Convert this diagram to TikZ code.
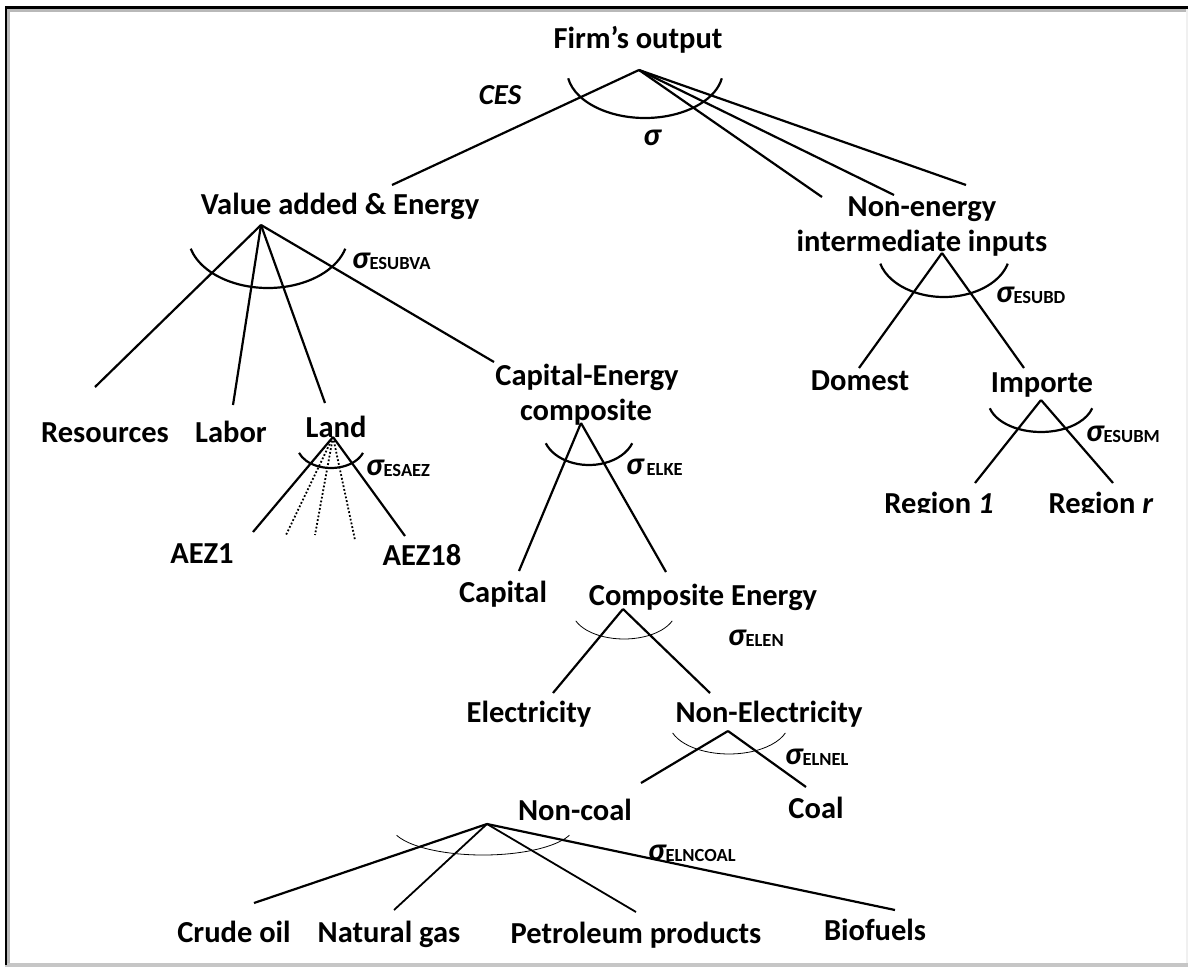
\documentclass[tikz,border=0pt]{standalone}
\usepackage{fontspec}
\setmainfont{Carlito}
\begin{document}
\begin{tikzpicture}[x=1pt,y=-1pt,
  lbl/.style={font=\bfseries\fontsize{30.5}{34}\selectfont, inner sep=0pt, anchor=base},
  sig/.style={font=\bfseries\fontsize{30.5}{34}\selectfont, inner sep=0pt, anchor=base west},
  br/.style={line width=2.2pt},
  midbr/.style={line width=1.8pt},
  bigarc/.style={line width=2.2pt},
  smallarc/.style={line width=0.8pt},
  dotbr/.style={line width=1.8pt, dotted}]
\useasboundingbox (0,0) rectangle (1188,968);
% frame
\fill[white] (0,0) rectangle (1188,968);
\fill[gray!55] (4.5,6) rectangle (1188,12);
\fill[gray!55] (4.5,6) rectangle (10,967);
\fill[gray!45] (4.5,963) rectangle (1188,967);
\fill[gray!12] (1186,8) rectangle (1188,963);
\fill[black] (4.5,6) rectangle (1188,8.6);
\fill[black] (4.5,6) rectangle (7,965);

\newcommand{\sg}[1]{{\itshape\fontsize{32}{34}\selectfont σ}{\fontsize{18.5}{20}\selectfont\raisebox{-1pt}{#1}}}

% labels
\node[lbl] (firm) at (638,49) {Firm’s output};
\node[lbl, font=\bfseries\itshape\fontsize{29}{34}\selectfont] (ces) at (500,105) {CES};
\node[lbl, font=\bfseries\itshape\fontsize{32}{34}\selectfont] (sigma) at (652,146) {σ};
\node[lbl] (va) at (340,215) {Value added \& Energy};
\node[lbl] (ne1) at (922,217) {Non-energy};
\node[lbl] (ne2) at (922,252) {intermediate inputs};
\node[lbl] (res) at (105,442) {Resources};
\node[lbl] (lab) at (231,442) {Labor};
\node[lbl] (land) at (336,437) {Land};
\node[lbl] (ce1) at (587,385) {Capital-Energy};
\node[lbl] (ce2) at (586,420) {composite};
\node[lbl] (aez1) at (202,563) {AEZ1};
\node[lbl] (aez18) at (422,565) {AEZ18};
\node[lbl] (cap) at (503,602) {Capital};
\node[lbl] (cen) at (703,605) {Composite Energy};
\node[lbl] (elec) at (529,722) {Electricity};
\node[lbl] (nel) at (769,722) {Non-Electricity};
\node[lbl] (ncoal) at (575,820) {Non-coal};
\node[lbl] (coal) at (816,818) {Coal};
\node[lbl] (crude) at (234,942) {Crude oil};
\node[lbl] (ngas) at (389,942) {Natural gas};
\node[lbl] (petro) at (636,943) {Petroleum products};
\node[lbl] (bio) at (875,940) {Biofuels};
\node[lbl] (dom) at (860,390) {Domest};
\node[lbl] (imp) at (1042,392) {Importe};
\begin{scope}
\clip (850,470) rectangle (1188,512);
\node[lbl] (r1) at (939,513.5) {Region \textit{1}};
\node[lbl] (rr) at (1101,513.5) {Region \textit{r}};
\end{scope}

% sigma labels
\node[sig] (s1) at (352,269) {\sg{ESUBVA}};
\node[sig] (s2) at (366,475) {\sg{ESAEZ}};
\node[sig] (s3) at (626,474) {\sg{\,ELKE}};
\node[sig] (s4) at (728,645) {\sg{ELEN}};
\node[sig] (s5) at (785,764) {\sg{ELNEL}};
\node[sig] (s6) at (648,860) {\sg{ELNCOAL}};
\node[sig] (s7) at (996,302) {\sg{ESUBD}};
\node[sig] (s8) at (1086,441) {\sg{ESUBM}};

% apex coordinates
\coordinate (aF) at (639,70);
\coordinate (aVA) at (261,225);
\coordinate (aL) at (333,437);
\coordinate (aCE) at (581,423);
\coordinate (aCN) at (623,609);
\coordinate (aNL) at (728,731);
\coordinate (aNC) at (487,824);
\coordinate (aNE) at (942,253);
\coordinate (aIM) at (1041,400);

% free ends
\coordinate (eF1) at (392,185);
\coordinate (eF2) at (822,197);
\coordinate (eF3) at (894,195);
\coordinate (eF4) at (966,185);
\coordinate (eV1) at (95,387);
\coordinate (eV2) at (233,405);
\coordinate (eV3) at (325,403);
\coordinate (eV4) at (494,362);
\coordinate (eL1) at (253,532);
\coordinate (eL2) at (286,535);
\coordinate (eL3) at (315,535);
\coordinate (eL4) at (355,540);
\coordinate (eL5) at (405,536);
\coordinate (eC1) at (519,571);
\coordinate (eC2) at (666,572);
\coordinate (eN1) at (553,693);
\coordinate (eN2) at (710,693);
\coordinate (eE1) at (641,783);
\coordinate (eE2) at (806,787);
\coordinate (eO1) at (254,903);
\coordinate (eO2) at (394,910);
\coordinate (eO3) at (636,912);
\coordinate (eO4) at (895,910);
\coordinate (eD1) at (859,368);
\coordinate (eD2) at (1024,368);
\coordinate (eM1) at (975,483);
\coordinate (eM2) at (1113,483);

% branches
\foreach \e in {eF1,eF2,eF3,eF4} \draw[br] (aF) -- (\e);
\foreach \e in {eV1,eV2,eV3,eV4} \draw[br] (aVA) -- (\e);
\draw[br] (aL) -- (eL1);
\draw[dotbr] (aL) -- (eL2);
\draw[dotbr] (aL) -- (eL3);
\draw[dotbr] (aL) -- (eL4);
\draw[br] (aL) -- (eL5);
\draw[br] (aCE) -- (eC1);
\draw[br] (aCE) -- (eC2);
\draw[br] (aCN) -- (eN1);
\draw[br] (aCN) -- (eN2);
\draw[br] (aNL) -- (eE1);
\draw[br] (aNL) -- (eE2);
\draw[br] (aNC) -- (eO1);
\draw[midbr] (aNC) -- (eO2);
\draw[midbr] (aNC) -- (eO3);
\draw[br] (aNC) -- (eO4);
\draw[br] (aNE) -- (eD1);
\draw[br] (aNE) -- (eD2);
\draw[br] (aIM) -- (eM1);
\draw[br] (aIM) -- (eM2);

% arcs
\draw[bigarc] (645,70) ++(170:78 and 48) arc[start angle=170, end angle=10, x radius=78, y radius=48];
\draw[bigarc] (268,235) ++(165:80 and 53) arc[start angle=165, end angle=15, x radius=80, y radius=53];
\draw[bigarc] (331,445) ++(160:34 and 23) arc[start angle=160, end angle=20, x radius=34, y radius=23];
\draw[bigarc] (589,432) ++(160:46 and 33) arc[start angle=160, end angle=20, x radius=46, y radius=33];
\draw[smallarc] (624,610) ++(158:52 and 29) arc[start angle=158, end angle=22, x radius=52, y radius=29];
\draw[smallarc] (729,722) ++(160:60 and 32) arc[start angle=160, end angle=20, x radius=60, y radius=32];
\draw[smallarc] (483,825) ++(160:92 and 30) arc[start angle=160, end angle=20, x radius=92, y radius=30];
\draw[bigarc] (944,252) ++(165:66 and 45) arc[start angle=165, end angle=15, x radius=66, y radius=45];
\draw[bigarc] (1041,400) ++(165:53 and 32) arc[start angle=165, end angle=15, x radius=53, y radius=32];
\end{tikzpicture}
\end{document}
